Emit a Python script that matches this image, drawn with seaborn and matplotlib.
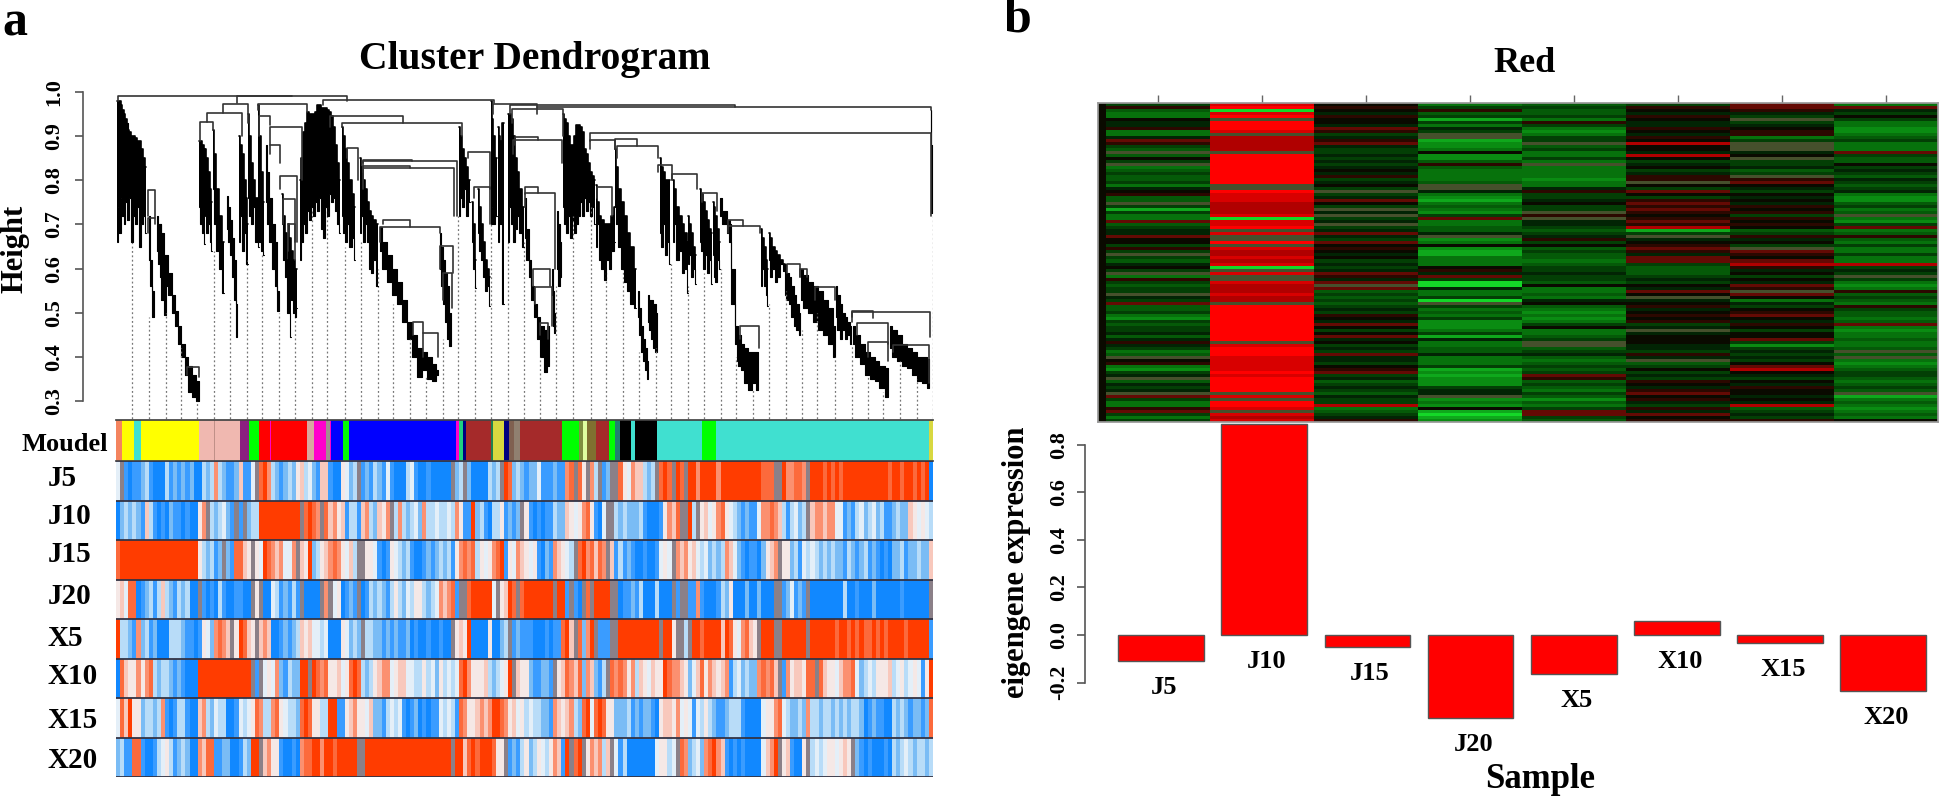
import numpy as np
import seaborn as sns
import matplotlib.pyplot as plt
from matplotlib.colors import ListedColormap

W, H = 1940, 797

# panel b values
samples = ["J5", "J10", "J15", "J20", "X5", "X10", "X15", "X20"]
eigengene = [-0.109, 0.887, -0.052, -0.349, -0.164, 0.06, -0.034, -0.237]

# module colour bar of panel a: names and widths along the gene order
module_names = ["#f4845f", "#ffff00", "#40e0d0", "#ffff00", "#f0b8b0", "#c09088", "#f0b8b0", "#8b2080",
                "#00ff00", "#ff0000", "#ff00cc", "#ff0000", "#d9a8a0", "#ff00cc", "#a09090", "#ff00cc",
                "#0000ff", "#00ff00", "#0000ff", "#ff00cc", "#20d080", "#000080", "#a52a2a", "#208050",
                "#d8d840", "#000080", "#806050", "#908070", "#a52a2a", "#00ff00", "#809040", "#e0ffa0",
                "#807030", "#a52a2a", "#00ff00", "#208070", "#000000", "#40e0d0", "#000000", "#40e0d0",
                "#00ff00", "#40e0d0", "#d8d840"]
module_sizes = [6, 12, 7, 58, 15, 1, 25, 9, 10, 11, 1, 36, 7, 12, 4, 1, 12, 6, 107, 3, 4, 3, 25, 2,
                11, 5, 5, 6, 43, 17, 4, 4, 9, 13, 6, 5, 11, 4, 22, 45, 14, 213, 4]

# expression stripes, 0 = blue ... 5 = white ... 9 = red, g = grey mix
stripe_colors = ["#1188ff", "#3a9cff", "#7abcf5", "#b8dcf8", "#e4eff8", "#f5e8e6",
                 "#f8c8bc", "#fb9070", "#fc6a3c", "#ff3c00", "#8b8088"]
stripes_J5 = ("4g10112310 0031212120 0323732112 6114g89732 1232563421 "
              "661005423g 1213214100 0341001000 00g23g2000 0323g98232 "
              "1224111211 78g85g73g1 2gg8547663 23g898g98g 9979999799 "
              "9999999988 8gg977887g 9998989899 9999999998 9989989890")
stripes_J10 = ("0232321631 0102110100 57g323421g 1g23399999 99999g8987 "
               "g867561331 6732657g37 3234273343 3437511923 103351212g "
               "5101011322 6545785104 gg32322231 00015768gg 93g5645785 "
               "4321211477 876313423g 6776774412 1342342311 2322654543")
stripes_J15 = ("8999999999 9999999999 532312g218 865g549876 7447g65923 "
               "567875463g g554101543 2310012123 2315787835 4578915476 "
               "5451021765 43g8978687 g613121001 001454g767 5643423237 "
               "6421011025 67g5523143 4323232213 2123121010 2231223226")
stripes_J20 = ("5648801231 3632132300 g101031001 100g5g0043 12131g0000 "
               "g7g450121g 0132321353 2435532347 6781gg8999 994g5698g8 "
               "9999999g99 1g10g8g999 9gg0112130 003000g1gg 1171000132 "
               "5000200200 0gg124121g 0000000030 0100020000 001000000g")
stripes_X5 = ("9332172312 0003332110 15427876g5 9865g67600 1212365644 "
              "3400054232 g332212121 1201001001 00g5659000 050023g121 "
              "1100010118 96g8279g11 1gg9999999 999g995gg3 g998999969 "
              "8547865g99 9gg999999g 9999998998 9898898989 9998999991")
stripes_X10 = ("0865575783 2332121000 9999999999 999g1g4547 2132299g98 "
               "7855645898 3235677456 6443353425 3434897555 6323459g65 "
               "5211221g56 8768276213 g878757365 4655987765 2468576567 "
               "1342322787 86g1756658 8g86554677 8423435556 3453454159")
stripes_X15 = ("4869552332 3710133100 6732433001 4345873378 5433289855 "
               "3399115675 5462213434 1012010114 3431875567 6799875645 "
               "3433221765 6732894898 5522231212 2105665745 4143532112 "
               "3331000045 5784322327 3323323232 3320121100 3232122128")
stripes_X20 = ("2311881001 3453123200 7688112200 13299g6755 1001078899 "
               "799899999g g999999999 9999999999 99g9968989 99855g1213 "
               "5235435761 9g89g57673 6g41300000 0045534g87 2342789761 "
               "0101000046 79g561005g 3434554565 g210100010 3234323323")
stripe_rows = [stripes_J5, stripes_J10, stripes_J15, stripes_J20,
               stripes_X5, stripes_X10, stripes_X15, stripes_X20]

# red module heatmap, green to black to red, one string per sample
heat_chars = "0123456789abcg"
heat_colors = ["#14d828", "#0fa81c", "#0a8c12", "#07720c", "#055a08", "#033f05", "#022404", "#0a0a00",
               "#2c0800", "#640a04", "#b00000", "#d80000", "#ff0000", "#46502c"]
heat_J5 = "5843376683 369854g475 g345445367 844g515339 4566977585 g54675g385 455g659445 3254556468 6534g78325 6g4656g953 389535"
heat_J10 = "bc0bcgcccb gaaaaagccc cccccccggc bbbaaaab0b bcgbggcgba abab0gbggb aaabaagccc cccccccccg bcccbbbbbc bcccccgbgc cbgbab"
heat_J15 = "7876877698 5689655656 567685675g 56975g6g56 g569659787 6756569869 g945454565 8769757967 5659665789 5645654655 a34568"
heat_J20 = "3584515365 gg12237224 8433334gg6 3213432593 3446g23721 1333786950 063350g534 3522235163 3446333512 1222566g23 271012"
heat_X5 = "4544538532 355g453353 g333323368 556755g8g6 6545685745 4434556554 7334367432 323573345g g456434545 9845435424 359954"
heat_X10 = "5876876687 687a776a75 675688g759 7589898789 8a15g67898 6995444565 7697g67867 87856g6777 66586g4575 6587689786 586978"
heat_X15 = "99865g5678 835ggg67g5 5645g89765 7676878587 87458675g9 879a867576 98g9736578 9768757795 25656579a7 6576877676 a45658"
heat_X20 = "3965753322 3453339544 7565465456 3224534g32 5934843533 533a565g53 2384543854 4349323343 34g4g32345 543454g134 323437"
heat_cols = [heat_J5, heat_J10, heat_J15, heat_J20, heat_X5, heat_X10, heat_X15, heat_X20]

# dendrogram: combs of hanging leaves, gene position, upper and lower height
combs = [
    ([1, 2.5, 4, 5.5, 7, 8.5, 10, 12, 14, 16, 18, 20, 22, 24, 26, 28, 30],
     [.98, .98, .98, .97, .96, .95, .94, .915, .91, .90, .90, .895, .89, .89, .87, .85, .83],
     [.66, .74, .68, .76, .72, .70, .75, .71, .76, .66, .72, .70, .74, .65, .70, .72, .68]),
    ([83, 85, 87, 89], [.89, .89, .88, .87], [.74, .70, .68, .655]),
    ([89, 91, 93, 95, 96], [.87, .85, .82, .78, .75], [.72, .68, .70, .66, .64]),
    ([97, 99, 102, 105, 108], [.915, .86, .78, .72, .66], [.78, .70, .64, .60, .545]),
    ([123, 125, 127, 129, 131, 132], [.90, .88, .86, .80, .76, .70], [.66, .72, .64, .68, .61, .61]),
    ([132, 134, 136, 138, 141, 143], [.95, .90, .84, .80, .76, .70], [.76, .72, .70, .74, .66, .65]),
    ([142, 144, 146, 148], [.97, .90, .82, .75], [.70, .66, .64, .63]),
    ([166, 168, 170, 173, 175], [.77, .72, .68, .62, .58], [.70, .62, .58, .50, .445]),
    ([172, 174, 176, 178, 180, 181], [.70, .67, .64, .62, .60, .60], [.60, .56, .53, .50, .49, .51]),
    ([184, 186, 188, 190, 192, 194, 196, 198, 200, 202, 204, 206, 208, 210, 212, 214, 216, 218, 220, 222, 224],
     [.80, .85, .91, .93, .955, .95, .95, .95, .955, .97, .97, .965, .965, .965, .96, .955, .945, .92, .88, .84, .80],
     [.62, .66, .70, .68, .73, .71, .74, .72, .75, .73, .76, .69, .67, .74, .72, .77, .75, .76, .73, .70, .68]),
    ([226, 228, 230, 232, 235, 237, 239], [.92, .90, .87, .84, .80, .77, .74], [.72, .68, .66, .70, .65, .67, .62]),
    ([244, 246, 248, 250, 252, 254, 256, 259, 262],
     [.85, .83, .80, .78, .75, .73, .72, .71, .70], [.68, .72, .66, .70, .66, .60, .59, .62, .56]),
    ([343, 345, 347, 349, 351, 354], [.92, .90, .87, .85, .83, .80], [.72, .76, .74, .78, .72, .75]),
    ([356, 358, 360], [.75, .70, .62], [.66, .60, .555]),
    ([362, 364, 366, 368, 370, 372, 374], [.78, .74, .70, .66, .62, .60, .58], [.68, .64, .62, .58, .55, .56, .515]),
    ([375, 377, 378, 381], [.98, .94, .90, .85], [.70, .74, .70, .72]),
    ([382, 384, 385, 388], [.92, .90, .89, .93], [.66, .72, .70, .52]),
    ([392, 394, 396, 398, 400, 402, 405, 408], [.95, .95, .94, .90, .85, .82, .78, .74], [.66, .74, .70, .66, .69, .72, .68, .65]),
    ([447, 449, 451, 453, 455, 457, 459, 461, 463, 465, 467, 469, 471, 473, 475, 477, 479],
     [.95, .94, .93, .90, .88, .88, .90, .925, .925, .92, .91, .87, .86, .84, .82, .81, .80],
     [.74, .70, .68, .72, .67, .71, .68, .70, .72, .76, .72, .76, .73, .75, .72, .74, .70]),
    ([480, 482, 484, 487, 489, 492, 494, 497, 499],
     [.79, .75, .72, .71, .70, .70, .70, .72, .74], [.65, .70, .62, .60, .575, .62, .60, .64, .66]),
    ([499, 501, 504, 507, 510, 513, 516, 520], [.87, .83, .78, .75, .72, .68, .65, .60], [.74, .70, .65, .60, .57, .55, .52, .51]),
    ([544, 546, 548, 550, 552, 554], [.85, .83, .82, .80, .80, .80], [.68, .65, .70, .63, .66, .61]),
    ([557, 559, 562, 565, 567, 570, 572], [.80, .78, .74, .72, .70, .68, .66], [.66, .70, .62, .64, .59, .60, .545]),
    ([572, 574, 576, 578, 580], [.72, .70, .68, .65, .63], [.61, .63, .58, .60, .565]),
    ([584, 586, 588, 590, 592, 594, 596], [.78, .77, .75, .73, .71, .69, .68], [.66, .64, .60, .63, .59, .62, .565]),
    ([597, 599, 600, 602, 604], [.75, .74, .72, .69, .66], [.63, .58, .57, .62, .60]),
    ([645, 647, 649, 651, 652], [.69, .67, .65, .62, .60], [.56, .60, .56, .54, .515]),
    ([653, 655, 658, 660, 663, 666, 669], [.68, .67, .65, .64, .63, .62, .61], [.62, .58, .60, .57, .58, .61, .595]),
]

# dendrogram: tightly packed masses and tails, drawn solid
bands = [
    ([2, 6, 10, 14], [.96, .95, .93, .89], [.80, .80, .82, .82]),
    ([33, 35, 38], [.72, .62, .55], [.62, .56, .49]),
    ([44, 47, 50], [.70, .62, .58], [.58, .53, .495]),
    ([41, 44, 47, 50, 54, 58, 61, 64, 67, 71, 74, 78, 83],
     [.72, .70, .68, .63, .59, .54, .505, .47, .43, .40, .38, .36, .345],
     [.64, .61, .585, .56, .54, .50, .47, .43, .40, .36, .32, .31, .30]),
    ([111, 113, 115, 117, 119, 121.5], [.765, .74, .71, .67, .62, .52], [.69, .66, .63, .58, .53, .445]),
    ([150, 152, 155, 158, 160, 163], [.88, .82, .76, .70, .66, .55], [.75, .70, .66, .60, .56, .505]),
    ([190, 195, 200, 205, 210, 215, 220], [.90, .92, .93, .94, .94, .92, .86], [.80, .79, .80, .80, .79, .80, .80]),
    ([264, 269, 274, 279, 284, 289, 294, 299, 304, 309, 314, 318, 322],
     [.695, .66, .63, .60, .57, .53, .48, .45, .42, .41, .40, .385, .37],
     [.64, .60, .57, .54, .52, .48, .44, .40, .355, .37, .35, .345, .36]),
    ([324, 326, 328, 330, 332, 335], [.68, .65, .62, .59, .56, .50], [.60, .56, .52, .48, .44, .425]),
    ([409, 412, 414, 417, 419, 423, 426, 430, 433],
     [.76, .69, .62, .56, .52, .49, .47, .46, .47], [.67, .62, .58, .53, .49, .44, .40, .365, .38]),
    ([436, 438, 439], [.60, .55, .50], [.54, .47, .455]),
    ([441, 443, 445], [.73, .70, .66], [.60, .56, .58]),
    ([452, 458, 464, 470, 476], [.80, .80, .80, .80, .79], [.75, .74, .75, .76, .75]),
    ([522, 524, 526, 528, 530, 532], [.55, .51, .47, .44, .42, .39], [.49, .45, .41, .39, .37, .35]),
    ([532, 534, 536, 538, 540, 541], [.54, .53, .53, .52, .52, .50], [.48, .46, .44, .42, .41, .41]),
    ([604, 609, 614], [.76, .73, .71], [.72, .70, .68]),
    ([613, 618, 621], [.70, .60, .47], [.66, .52, .43]),
    ([621, 624, 626, 630, 634, 638, 642], [.47, .45, .43, .42, .41, .41, .41], [.39, .38, .37, .34, .325, .34, .325]),
    ([669, 672, 674, 677, 679, 682, 684], [.61, .59, .58, .56, .54, .52, .50], [.54, .53, .52, .49, .47, .46, .45]),
    ([685, 690, 695, 700, 705, 710, 715, 719], [.60, .585, .57, .56, .55, .53, .51, .47], [.53, .51, .50, .48, .46, .45, .43, .40]),
    ([720, 723, 725, 728, 730, 733, 735], [.56, .54, .52, .50, .49, .48, .47], [.49, .46, .44, .46, .44, .45, .43]),
    ([737, 742, 747, 752, 757, 761, 766, 772], [.47, .45, .43, .41, .40, .39, .38, .375], [.43, .40, .385, .36, .35, .345, .33, .31]),
    ([774, 779, 784, 789, 794, 799, 804, 809, 813],
     [.47, .46, .45, .43, .42, .41, .40, .40, .395], [.42, .40, .39, .38, .375, .36, .345, .34, .33]),
    ([815, 816], [.96, .88], [.78, .725]),
]

# dendrogram merges: left, right, height, left end, right end
merges = [
    (2, 176, .992, .98, .99), (121, 231, .99, .975, .98), (207, 378, .982, .97, .975),
    (377, 421, .974, .95, .967), (394, 619, .97, .95, .967), (421, 815, .967, .95, .96),
    (107, 132, .973, .952, .93), (142, 191, .974, .96, .955), (91, 126, .952, .932, .90),
    (84, 97, .932, .89, .915), (143, 154, .945, .90, .925), (154, 186, .92, .88, .80),
    (154, 164, .88, .86, .84), (164, 181, .81, .78, .66), (167, 179, .757, .70, .66),
    (172, 179, .70, .64, .62), (214, 287, .945, .92, .93), (226, 346, .93, .92, .90),
    (231, 242, .873, .85, .80), (247, 296, .847, .84, .843), (247, 341, .843, .82, .72),
    (247, 294, .833, .82, .828), (247, 338, .828, .78, .72), (267, 294, .71, .70, .695),
    (264, 324, .695, .66, .68), (324, 337, .652, .60, .59), (327, 336, .59, .53, .51),
    (297, 307, .48, .45, .453), (307, 322, .453, .40, .40), (71, 83, .376, .36, .355),
    (352, 374, .865, .85, .78), (358, 374, .785, .76, .70), (32, 39, .778, .72, .715),
    (32, 39, .715, .68, .70), (396, 447, .961, .93, .90), (397, 446, .892, .86, .84),
    (399, 422, .898, .88, .892), (409, 439, .771, .74, .60), (409, 422, .786, .77, .771),
    (417, 434, .60, .56, .56), (419, 436, .558, .52, .47), (424, 432, .476, .45, .44),
    (474, 499, .892, .87, .87), (499, 521, .893, .87, .877), (501, 542, .877, .85, .85),
    (481, 496, .786, .76, .72), (542, 556, .835, .82, .80), (556, 581, .814, .80, .78),
    (586, 601, .771, .75, .73), (612, 644, .697, .68, .68), (612, 627, .71, .69, .697),
    (624, 643, .47, .44, .42), (671, 684, .61, .59, .58), (684, 691, .60, .58, .58),
    (699, 719, .558, .53, .53), (736, 814, .502, .48, .446), (736, 757, .505, .49, .487),
    (741, 772, .476, .45, .43), (752, 772, .433, .40, .39), (777, 813, .427, .41, .34),
    (474, 815, .907, .89, .72),
]

# guide lines under the tree
guide_x = [16, 33, 50, 65, 81, 98, 114, 131, 146, 163, 179, 196, 211, 229, 245, 262, 277, 294, 310, 327, 342, 359,
           375, 392, 408, 424, 440, 457, 475, 490, 507, 523, 540, 555, 572, 588, 605, 620, 637, 653, 670, 686, 701,
           719, 736, 752, 767, 784, 801, 817]
guide_top = [.66, .49, .50, .42, .30, .64, .53, .62, .63, .50, .50, .73, .74, .65, .66, .60, .52, .44, .36, .44, .72,
             .56, .70, .66, .66, .40, .56, .72, .74, .60, .60, .41, .42, .61, .56, .59, .60, .40, .33, .52, .55, .46,
             .50, .40, .43, .36, .32, .39, .35, .72]

row_label_y = [478, 517, 555, 596, 638, 677, 721, 761]


def panel(x0, y0, x1, y1):
    return fig.add_axes([x0 / W, 1 - y1 / H, (x1 - x0) / W, (y1 - y0) / H])


def label(x, y, s, size, rotation=0, ha="center"):
    fig.text(x / W, 1 - y / H, s, fontsize=size, fontweight="bold", rotation=rotation, ha=ha, va="center")


def decode(text, n):
    groups = [(g + g[-1] * 10)[:10] for g in text.split()]
    return "".join(groups)[:n]


def height_axis(ax, ticks, names, outward, low, high, pad):
    # set_position resets the ticks, so the labels go on after it
    sns.despine(ax=ax, bottom=True)
    ax.spines["left"].set_position(("outward", outward))
    ax.spines["left"].set_bounds(low, high)
    ax.spines["left"].set_color("#555555")
    ax.spines["left"].set_linewidth(1.2)
    ax.set_xticks([])
    ax.set_yticks(ticks)
    ax.set_yticklabels(names, rotation=90, va="center", fontsize=16, fontweight="bold", color="black")
    ax.tick_params(axis="y", left=True, length=6, width=1.2, color="#555555", pad=pad)
    ax.patch.set_alpha(0)


sns.set_theme(style="white")
plt.rcParams["font.family"] = ["Liberation Serif", "DejaVu Serif"]
plt.rcParams["text.color"] = "black"
plt.rcParams["hatch.linewidth"] = 1.1
fig = plt.figure(figsize=(W / 100, H / 100), dpi=100)

# a: dendrogram
ax = panel(116, 85, 933, 420)
ax.vlines(guide_x, 0.25, guide_top, color="#777777", lw=0.9, ls=(0, (1.5, 2)))
for xs, top, bottom in combs:
    ax.fill_between(xs, bottom, top, step="mid", facecolor="none", edgecolor="black", hatch="|" * 12, linewidth=0)
    ax.step(xs, top, where="mid", color="black", lw=1.2)
    ax.step(xs, bottom, where="mid", color="black", lw=0.8)
for xs, top, bottom in bands:
    ax.fill_between(xs, bottom, top, step="mid", color="black", lw=0.8)
for left, right, height, end_l, end_r in merges:
    ax.plot([left, left, right, right], [end_l, height, height, end_r], color="#333333", lw=1.2)
ax.set_xlim(0, 817)
ax.set_ylim(0.257, 1.016)
height_axis(ax, [0.3, 0.4, 0.5, 0.6, 0.7, 0.8, 0.9, 1.0], ["0.3", "0.4", "0.5", "0.6", "0.7", "0.8", "0.9", "1.0"],
            24, 0.3, 1.0, 7)

# a: module colours
ax = panel(116, 420, 933, 461)
module_index = np.repeat(np.arange(len(module_names)), module_sizes)[None, :]
sns.heatmap(module_index, ax=ax, cmap=ListedColormap(module_names), vmin=0, vmax=len(module_names) - 1,
            cbar=False, xticklabels=False, yticklabels=False)
for side in ["top", "bottom"]:
    ax.spines[side].set_visible(True)
    ax.spines[side].set_color("#444444")

# a: sample stripes
ax = panel(116, 461, 933, 777)
codes = "0123456789g"
stripe_matrix = np.array([[codes.index(c) for c in decode(row, 200)] for row in stripe_rows])
sns.heatmap(stripe_matrix, ax=ax, cmap=ListedColormap(stripe_colors), vmin=0, vmax=10,
            cbar=False, xticklabels=False, yticklabels=False)
ax.hlines(np.arange(9), 0, 200, color="#333344", lw=1.3)

# b: red module heatmap
ax = panel(1098, 103, 1938, 422)
heat_rows = np.array([[heat_chars.index(c) for c in decode(col, 106)] for col in heat_cols]).T
heat_matrix = np.hstack([np.full((heat_rows.shape[0], 1), heat_chars.index("7")), np.repeat(heat_rows, 13, axis=1)])
sns.heatmap(heat_matrix, ax=ax, cmap=ListedColormap(heat_colors), vmin=0, vmax=len(heat_colors) - 1,
            cbar=False, yticklabels=False)
ax.set_xticks(1 + 6.5 + 13 * np.arange(8))
ax.set_xticklabels([])
ax.xaxis.tick_top()
ax.tick_params(axis="x", top=True, bottom=False, length=6, width=1, color="#666666")
for side in ax.spines.values():
    side.set_visible(True)
    side.set_color("#999999")

# b: eigengene bars
ax = panel(1098, 423, 1938, 760)
sns.barplot(x=samples, y=eigengene, ax=ax, color="#ff0000", saturation=1, width=0.83,
            edgecolor="#555555", linewidth=1)
ax.set_xlim(-0.61, 7.53)
ax.set_ylim(-0.525, 0.891)
height_axis(ax, [-0.2, 0.0, 0.2, 0.4, 0.6, 0.8], ["-0.2", "0.0", "0.2", "0.4", "0.6", "0.8"], 9, -0.2, 0.8, 6)
for i, (name, value) in enumerate(zip(samples, eigengene)):
    ax.annotate(name, (i, min(value, 0)), xytext=(2, -19), textcoords="offset points", ha="center", va="center",
                fontsize=19, fontweight="bold")

# text
label(535, 59, "Cluster Dendrogram", 28.5)
label(1525, 63, "Red", 26)
label(15, 249, "Height", 22, rotation=90)
label(1017, 562, "eigengene expression", 22, rotation=90)
label(1540, 780, "Sample", 25)
label(15, 24, "a", 36)
label(1017, 20, "b", 36)
label(22, 444, "Moudel", 19, ha="left")
for name, y in zip(samples, row_label_y):
    label(48, y, name, 21, ha="left")

fig.savefig("out.png", dpi=100)
